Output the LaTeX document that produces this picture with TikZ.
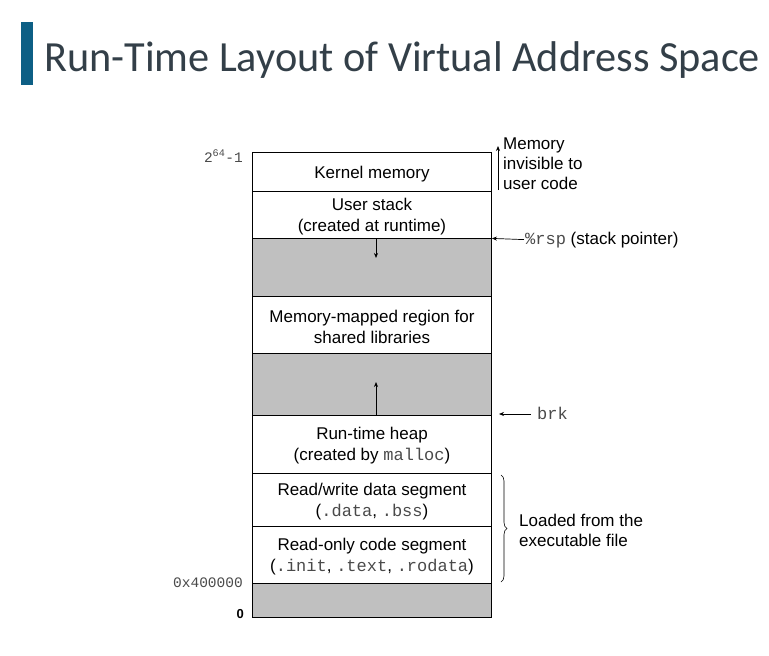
\documentclass[tikz,border=0pt]{standalone}
\usepackage{fontspec}
\setmainfont{Liberation Sans}
\setmonofont{Liberation Mono}
\newfontfamily\titlefont{Carlito}
\usetikzlibrary{decorations.pathreplacing,arrows.meta}
\definecolor{titlebar}{HTML}{0D5F85}
\definecolor{titletext}{HTML}{333F48}
\definecolor{graybox}{HTML}{C0C0C0}
\definecolor{monogray}{HTML}{4A4A4A}
\newcommand{\mt}[1]{{\ttfamily\color{monogray}#1}}
\begin{document}
\begin{tikzpicture}[x=1pt,y=-1pt,
 region/.style={draw=black, line width=0.8pt, minimum width=239pt, inner sep=0pt},
 emptyreg/.style={region, fill=graybox},
 boxtext/.style={inner sep=0pt, align=center, font=\fontsize{17}{21}\selectfont},
 lbl/.style={inner sep=0pt, font=\fontsize{17}{20}\selectfont, align=left},
 addr/.style={inner sep=0pt, font=\fontsize{14.5}{16}\selectfont\ttfamily, text=monogray},
 arr/.style={-{Stealth[length=5pt,width=4pt]}, line width=0.7pt},
 sep/.style={line width=1.8pt}
]
\useasboundingbox (0,0) rectangle (769,656);
% title
\fill[titlebar] (21,22) rectangle (33,85);
\node[anchor=base west, inner sep=0pt, text=titletext, font=\titlefont\fontsize{43}{50}\selectfont] (title) at (44,71) {\resizebox{716pt}{\height}{Run-Time Layout of Virtual Address Space}};

% regions
\node[region, minimum height=39pt] (kernel) at (372,171.5) {};
\node[region, minimum height=47pt] (ustack) at (372,214.5) {};
\node[emptyreg, minimum height=58pt] (gap1) at (372,267) {};
\node[region, minimum height=57pt] (mmap) at (372,324.5) {};
\node[emptyreg, minimum height=62pt] (gap2) at (372,384) {};
\node[region, minimum height=58pt] (heap) at (372,444) {};
\node[region, minimum height=53pt] (rw) at (372,499.5) {};
\node[region, minimum height=57pt] (ro) at (372,554.5) {};
\node[emptyreg, minimum height=34pt] (gap3) at (372,600) {};

\node[boxtext] (kernel-t) at ([yshift=-2.5pt]kernel.center) {Kernel memory};
\node[boxtext] (ustack-t) at ([yshift=-2pt]ustack.center) {User stack\\(created at runtime)};
\node[boxtext] (mmap-t) at ([yshift=-2pt]mmap.center) {Memory-mapped region for\\shared libraries};
\node[boxtext] (heap-t) at ([yshift=-2pt]heap.center) {Run-time heap\\(created by \mt{malloc})};
\node[boxtext] (rw-t) at ([yshift=-2pt]rw.center) {Read/write data segment\\(\mt{.data}, \mt{.bss})};
\node[boxtext] (ro-t) at ([yshift=-2pt]ro.center) {Read-only code segment\\(\mt{.init}, \mt{.text}, \mt{.rodata})};

\draw[sep] (kernel.south west) -- (kernel.south east);
\draw[sep] (gap1.south west) -- (gap1.south east);

% growth arrows
\coordinate (stacktop) at (376,238);
\coordinate (stackend) at (376,258);
\draw[arr] (stacktop) -- (stackend);
\coordinate (heaptop) at (376,415);
\coordinate (heapend) at (376,382);
\draw[arr] (heaptop) -- (heapend);

% left addresses
\node[addr, anchor=base east] (topaddr) at (243,162) {2\textsuperscript{64}-1};
\node[addr, anchor=base east] (lowaddr) at (243,587) {0x400000};
\node[anchor=base east, inner sep=0pt, font=\fontsize{13}{14}\selectfont\bfseries] (zero) at (244,618) {0};

% right annotations
\node[lbl, anchor=base west] (inv) at (503,189) {Memory\\invisible to\\user code};
\coordinate (invb) at (498,190);
\coordinate (invt) at (498,146);
\draw[arr] (invb) -- (invt);

\node[anchor=base west, inner sep=0pt, font=\fontsize{17}{20}\selectfont] (rsp) at (525,244) {\mt{\%rsp} (stack pointer)};
\draw[arr] ([xshift=-1pt]rsp.west) -- (ustack.south east);

\node[anchor=base west, inner sep=0pt, font=\fontsize{17}{20}\selectfont] (brk) at (537,419) {\mt{brk}};
\coordinate (brkfrom) at (531,414);
\coordinate (brkto) at (499,414);
\draw[arr] (brkfrom) -- (brkto);

\coordinate (bracetop) at (501,475);
\coordinate (bracebot) at (501,582);
\draw[line width=0.6pt, decorate, decoration={brace, amplitude=6pt}] (bracetop) -- (bracebot);
\node[lbl, anchor=west] (loaded) at (519,530) {Loaded from the\\executable file};
\end{tikzpicture}
\end{document}
